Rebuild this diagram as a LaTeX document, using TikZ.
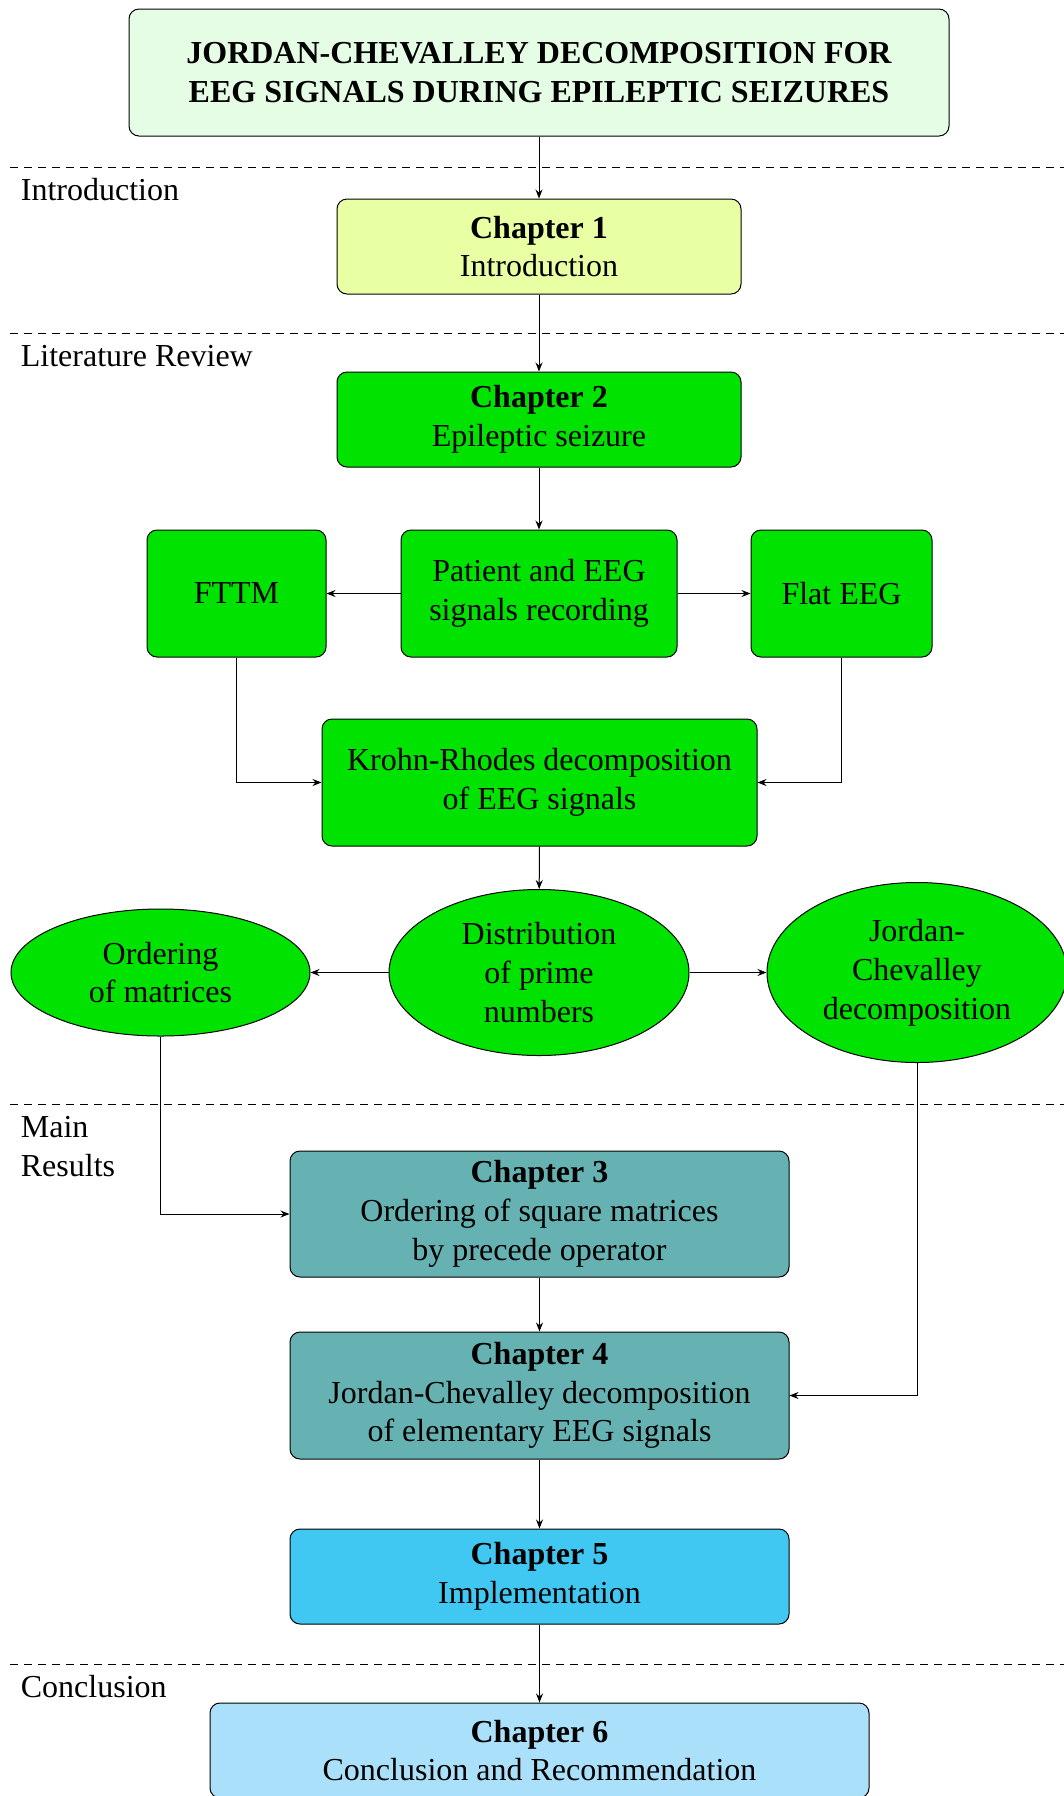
\documentclass[tikz,border=0pt]{standalone}
\usepackage{fontspec}
\setmainfont{Liberation Serif}
\usetikzlibrary{shapes.geometric,arrows.meta}
\definecolor{titlefill}{RGB}{229,253,229}
\definecolor{chonefill}{RGB}{232,255,163}
\definecolor{greenfill}{RGB}{0,226,0}
\definecolor{tealfill}{RGB}{102,178,178}
\definecolor{cyanfill}{RGB}{64,200,242}
\definecolor{lightbluefill}{RGB}{170,224,250}
\tikzset{
  txt/.style={font=\fontsize{16}{19.4}\selectfont, align=center},
  box/.style={txt, draw=black, line width=0.5pt, rounded corners=5pt, inner sep=0pt},
  ell/.style={txt, draw=black, line width=0.5pt, ellipse, inner sep=0pt, fill=greenfill},
  arr/.style={-{Stealth[length=4.5pt,width=3.5pt]}, line width=0.5pt},
  sep/.style={dashed, dash pattern=on 4pt off 3pt, line width=0.4pt},
  lbl/.style={txt, align=left, anchor=west, inner sep=0pt}
}
\begin{document}
\begin{tikzpicture}[x=0.5pt,y=-0.5pt]
\useasboundingbox (0,0) rectangle (1064,1796);
\clip (0,0) rectangle (1064,1796);
% separators
\draw[sep] (10,167) -- (1064,167);
\draw[sep] (10,333) -- (1064,333);
\draw[sep] (10,1104) -- (1064,1104);
\draw[sep] (10,1664) -- (1064,1664);
% labels
\node[lbl] (lintro) at (20.5,190) {Introduction};
\node[lbl] (llit) at (20.5,356) {Literature Review};
\node[lbl] (lmain) at (20.5,1146.5) {Main\\Results};
\node[lbl] (lconc) at (20.5,1687) {Conclusion};
% nodes
\node[box, fill=titlefill, minimum width=410pt, minimum height=63.5pt, font=\fontsize{16}{19.4}\selectfont\bfseries] (title) at (539,72.5)
  {JORDAN-CHEVALLEY DECOMPOSITION FOR\\EEG SIGNALS DURING EPILEPTIC SEIZURES};
\node[box, fill=chonefill, minimum width=202pt, minimum height=47.5pt] (ch1) at (539,246.5)
  {\textbf{Chapter 1}\\Introduction};
\node[box, fill=greenfill, minimum width=202pt, minimum height=47.5pt] (ch2) at (539,419.5)
  {\textbf{Chapter 2}\\Epileptic seizure};
\node[box, fill=greenfill, minimum width=89.5pt, minimum height=63.5pt] (fttm) at (236.5,593.5) {FTTM};
\node[box, fill=greenfill, minimum width=138pt, minimum height=63.5pt] (pat) at (539,593.5)
  {Patient and EEG\\signals recording};
\node[box, fill=greenfill, minimum width=90.5pt, minimum height=63.5pt] (flat) at (841.5,593.5) {Flat EEG};
\node[box, fill=greenfill, minimum width=217.5pt, minimum height=63.5pt] (kr) at (539.5,782.5)
  {Krohn-Rhodes decomposition\\of EEG signals};
\node[ell, minimum width=149.5pt, minimum height=63.5pt] (ord) at (160.5,972.5) {Ordering\\of matrices};
\node[ell, minimum width=150pt, minimum height=83pt] (dist) at (539,972.5) {Distribution\\of prime\\numbers};
\node[ell, minimum width=150pt, minimum height=90pt] (jc) at (917,972.5) {Jordan-\\Chevalley\\decomposition};
\node[box, fill=tealfill, minimum width=249.5pt, minimum height=63pt] (ch3) at (539.5,1214)
  {\textbf{Chapter 3}\\Ordering of square matrices\\by precede operator};
\node[box, fill=tealfill, minimum width=249.5pt, minimum height=63.5pt] (ch4) at (539.5,1395.5)
  {\textbf{Chapter 4}\\Jordan-Chevalley decomposition\\of elementary EEG signals};
\node[box, fill=cyanfill, minimum width=249.5pt, minimum height=47.5pt] (ch5) at (539.5,1576.5)
  {\textbf{Chapter 5}\\Implementation};
\node[box, fill=lightbluefill, minimum width=329.5pt, minimum height=47.5pt] (ch6) at (539.5,1750.5)
  {\textbf{Chapter 6}\\Conclusion and Recommendation};
% connectors
\draw[arr] (title) -- (ch1);
\draw[arr] (ch1) -- (ch2);
\draw[arr] (ch2) -- (pat);
\draw[arr] (pat) -- (fttm);
\draw[arr] (pat) -- (flat);
\draw[arr] (fttm.south) |- (kr.west);
\draw[arr] (flat.south) |- (kr.east);
\draw[arr] (kr) -- (dist);
\draw[arr] (dist) -- (ord);
\draw[arr] (dist) -- (jc);
\draw[arr] (ord.south) |- (ch3.west);
\draw[arr] (jc.south) |- (ch4.east);
\draw[arr] (ch3) -- (ch4);
\draw[arr] (ch4) -- (ch5);
\draw[arr] (ch5) -- (ch6);
\end{tikzpicture}
\end{document}
